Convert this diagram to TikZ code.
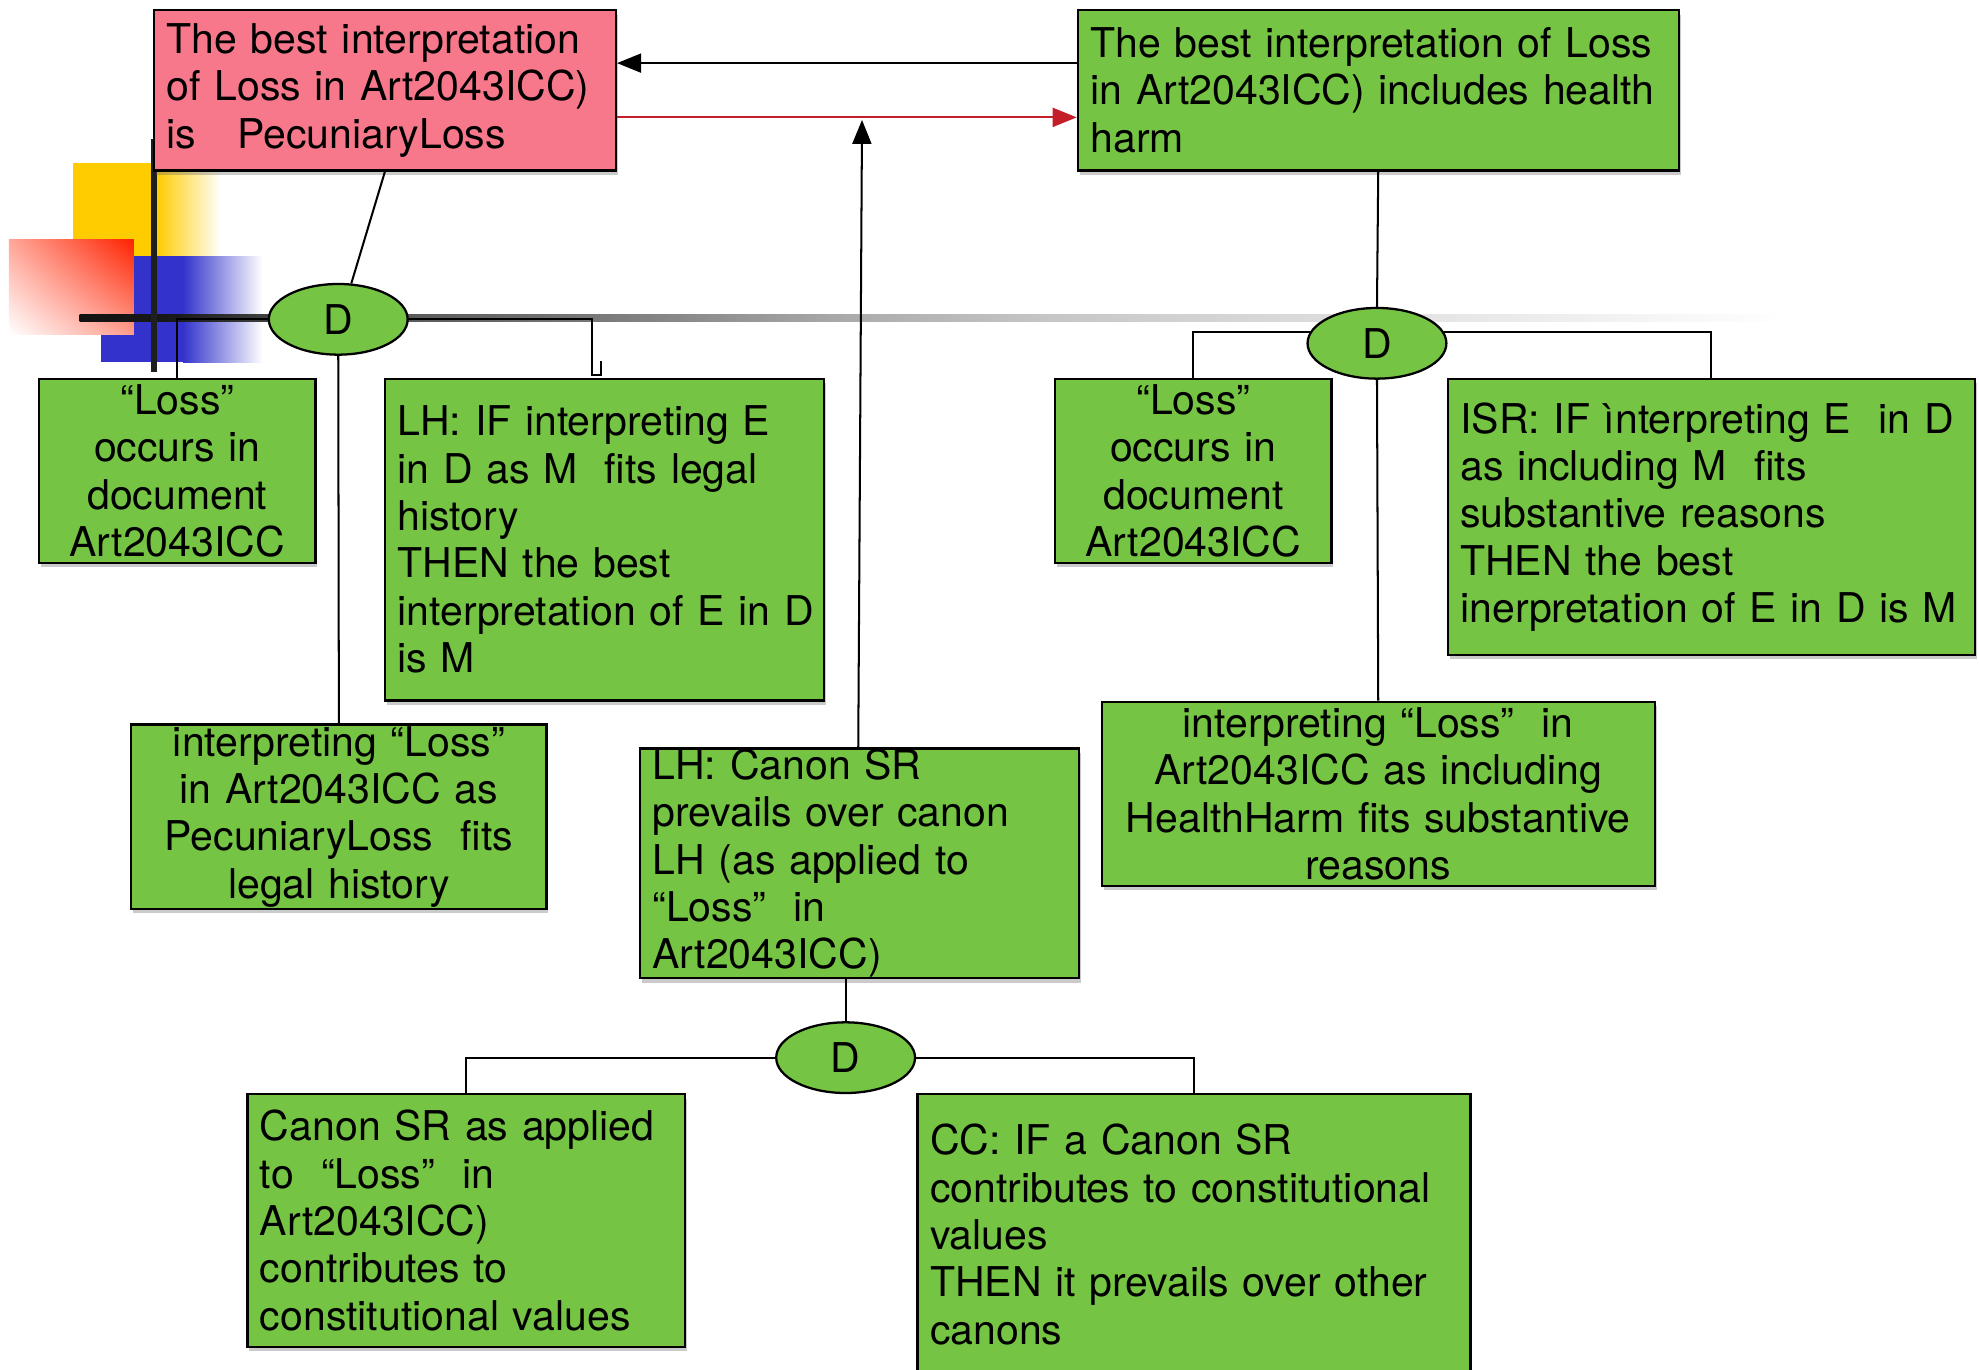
\documentclass[tikz,border=0pt]{standalone}
\usepackage{fontspec}
\setmainfont{TeX Gyre Heros}
\usetikzlibrary{shapes.geometric,arrows.meta,shadows,shadings,calc}
\definecolor{boxgreen}{HTML}{76C444}
\definecolor{boxpink}{HTML}{F6788A}
\definecolor{arrred}{HTML}{C41E2A}
\definecolor{decoyellow}{HTML}{FFCC00}
\definecolor{decoblue}{HTML}{3333CC}
\definecolor{decored}{HTML}{FF2200}
\pgfdeclarehorizontalshading{fadeline}{100bp}{color(0bp)=(black!93); color(25bp)=(black!93); color(27.85bp)=(black!90); color(30.45bp)=(black!75); color(34.5bp)=(black!65); color(40bp)=(black!53); color(47.5bp)=(black!33); color(53.5bp)=(black!22); color(63bp)=(black!12); color(75bp)=(white); color(100bp)=(white)}
\newcommand{\fsz}{\fontsize{32.5pt}{37.5pt}\selectfont}
\tikzset{
  basebox/.style={draw=black, line width=1.8pt, inner xsep=10pt, inner ysep=0pt, font=\fsz,
    drop shadow={shadow xshift=1.5pt, shadow yshift=-3.5pt, fill=black!60, opacity=0.35}},
  gbox/.style={basebox, fill=boxgreen},
  pbox/.style={basebox, fill=boxpink},
  dnode/.style={ellipse, draw=black, line width=1.8pt, fill=boxgreen, minimum width=110pt,
    minimum height=56pt, inner sep=0pt, font=\fsz},
  conn/.style={line width=1.6pt},
  tip/.style={-{Triangle[length=19pt,width=15pt]}},
}
\begin{document}
\begin{tikzpicture}[x=1pt,y=-1pt]
\useasboundingbox (0,0) rectangle (1568,1085);
% decorative template marks
\fill[decoyellow] (58,129) rectangle (124,204);
\shade[left color=decoyellow, right color=white] (124,129) rectangle (175,204);
\fill[decoblue] (80,203) rectangle (145,287);
\shade[left color=decoblue, right color=white] (145,203) rectangle (208,287);
\shade[upper left=decored!40!white, upper right=decored, lower left=white, lower right=decored!45!white] (7,190) rectangle (106,265);
\shade[shading=fadeline] (63,249.5) rectangle (1415,254.5);
\fill[black!88] (119.5,110) rectangle (124.5,295);
% boxes
\node[pbox, minimum width=366pt, minimum height=127pt, text width=346pt, align=left] (P) at (305,71.5)
  {The best interpretation\\of Loss in Art2043ICC)\\is\ \ \ PecuniaryLoss};
\node[gbox, minimum width=476pt, minimum height=127pt, text width=456pt, align=left] (G1) at (1092,71.5)
  {The best interpretation of Loss\\in Art2043ICC) includes health\\harm};
\node[dnode] (D1) at (268,253) {D};
\node[dnode] (D3) at (1091,272) {D};
\node[dnode] (D2) at (670,838) {D};
\node[gbox, minimum width=219pt, minimum height=146pt, text width=199pt, align=center] (Loss1) at (140.5,373)
  {“Loss”\\occurs in\\document\\Art2043ICC};
\node[gbox, minimum width=348pt, minimum height=255pt, text width=328pt, align=left] (LH1) at (479,427.5)
  {LH: IF interpreting E\\in D as M\ \ fits legal\\history\\THEN the best\\\mbox{interpretation of E in D}\\is M};
\node[gbox, minimum width=329pt, minimum height=146pt, text width=309pt, align=center] (L2) at (268.5,647)
  {interpreting “Loss”\\in Art2043ICC as\\PecuniaryLoss\ \ fits\\legal history};
\node[gbox, minimum width=348pt, minimum height=182pt, text width=328pt, align=left] (Canon) at (681,684)
  {LH: Canon SR\\prevails over canon\\LH (as applied to\\“Loss”\ \ in\\Art2043ICC)};
\node[gbox, minimum width=347pt, minimum height=200pt, text width=327pt, align=left] (CSR) at (369.5,967)
  {Canon SR as applied\\to\ \ “Loss”\ \ in\\Art2043ICC)\\contributes to\\constitutional values};
\node[gbox, minimum width=438pt, minimum height=222pt, text width=418pt, align=left] (CC) at (946,978)
  {CC: IF a Canon SR\\contributes to constitutional\\values\\THEN it prevails over other\\canons};
\node[gbox, minimum width=219pt, minimum height=146pt, text width=199pt, align=center] (Loss2) at (945.5,373)
  {“Loss”\\occurs in\\document\\Art2043ICC};
\node[gbox, minimum width=418pt, minimum height=219pt, text width=398pt, align=left] (ISR) at (1356,409.5)
  {ISR: IF ìnterpreting E\ \ in D\\as including M\ \ fits\\substantive reasons\\THEN the best\\inerpretation of E in D is M};
\node[gbox, minimum width=438pt, minimum height=146pt, text width=418pt, align=center] (HH) at (1092,629)
  {interpreting “Loss”\ \ in\\Art2043ICC as including\\HealthHarm fits substantive\\reasons};
% connectors
\coordinate (tipc) at (683,95);
\draw[conn,tip] ([yshift=21.5pt]G1.west) -- ([yshift=21.5pt]P.east);
\draw[conn,tip,arrred] ([yshift=-21.5pt]P.east) -- ([yshift=-21.5pt]G1.west);
\draw[conn,tip] ([xshift=-1pt]Canon.north) -- (tipc);
\draw[conn] (P.south) -- (D1.70);
\draw[conn] (D1.west) -| (Loss1.north);
\draw[conn] (D1.east) -| ($(LH1.north west)+(165,-2)$) -- ++(7,0) -- ++(0,-11);
\draw[conn] (D1.south) -- (L2.north);
\draw[conn] (G1.south) -- (D3.north);
\draw[conn] (D3.170) -| (Loss2.north);
\draw[conn] (D3.10) -| (ISR.north);
\draw[conn] (D3.south) -- (HH.north);
\draw[conn] (Canon.south -| D2.north) -- (D2.north);
\draw[conn] (D2.west) -| (CSR.north);
\draw[conn] (D2.east) -| (CC.north);
\end{tikzpicture}
\end{document}
